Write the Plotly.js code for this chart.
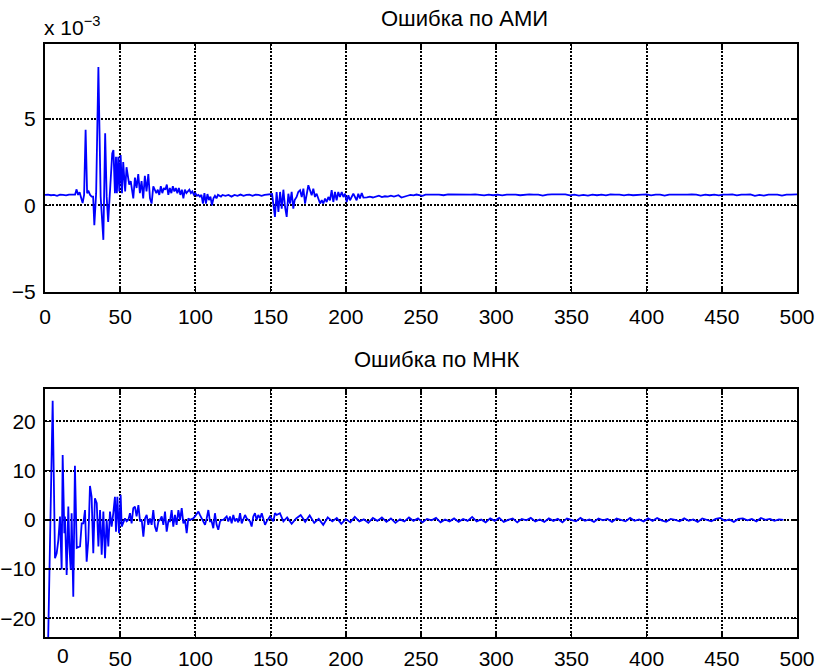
<!DOCTYPE html>
<html>
<head>
<meta charset="utf-8">
<script src="https://cdn.plot.ly/plotly-3.0.1.min.js"></script>
<style>html,body{margin:0;padding:0;background:#fff;}#chart{width:822px;height:669px;}</style>
</head>
<body>
<div id="chart"></div>
<script>
// ---- Top panel: "Ошибка по АМИ" (values in units of 1e-3)
var amiX = [0,2,4,6,8,10,12,14,16,18,20,21,22,23,24,25,26,27,28,29,30,31,32,32.8,34,35.5,37,38.8,40,41,42,43,44.7,45.5,46.5,47.2,47.8,48.7,49.4,50.3,51.2,52,53.3,54.2,56,57,58.7,59.8,60.9,62,63.1,64.2,65.3,66.4,67.5,68.7,69.8,70.9,72,74,75,76,77,78,79,80,81,82,83,84,85,86,87,88,89,90,91,92,93,94,95,96,97,98,99,100,101,102,103,104,105,106,107,108,109,110,111,112,113,114,115,117,118,120,122,124,126,128,130,132,134,136,138,140,142,144,146,148,150,151,152.9,154,155.2,156.3,157.4,158.5,159.6,160.7,161.8,162.9,164,165.1,166,167.3,168.4,169.6,170.7,171.8,172.9,174,175.1,176.2,177.3,178.4,179.5,180.6,181.7,182.9,184,185.1,186.2,187.3,188.4,189.5,190.6,191.7,192.8,193.9,195,196.1,197.3,198.4,199.5,200.6,201.7,202.8,205,207.2,208.3,209.4,210.6,211.7,214,216,218,220,222,224,226,228,230,232,235,237,239,241,243,245,247,249,251,253,256,259,262,265,268,271,274,277,280,283,286,289,292,295,298,301,304,307,310,313,316,319,322,325,328,331,334,337,340,343,346,349,352,355,358,361,364,367,370,373,376,379,382,385,388,391,394,397,400,403,406,409,412,415,418,421,424,427,430,433,436,439,442,445,448,451,454,457,460,463,466,469,472,475,478,481,484,487,490,493,496,500];
var amiY = [0.6,0.62,0.58,0.6,0.55,0.62,0.6,0.57,0.62,0.6,0.62,0.92,0.6,0.75,0.4,0.13,0.6,4.37,0.7,0.8,0.6,0.5,0.5,-1.16,0.7,8.0,0.5,-2.0,4.16,0.5,-0.96,0.8,3.0,3.2,0.7,2.8,0.7,2.8,0.8,2.9,0.7,2.5,0.8,2.2,1.2,1.4,0.4,1.6,1.0,1.8,0.7,1.4,0.4,1.7,0.8,1.8,0.4,0.1,1.1,0.7,0.9,0.6,1.1,0.7,1.0,0.9,1.2,0.6,1.0,0.7,1.1,0.8,1.0,0.7,1.0,0.6,0.9,0.4,0.9,0.7,0.8,0.9,0.7,0.8,0.6,0.7,0.55,0.6,0.5,0.6,0.1,0.7,0.1,0.65,0.3,0.5,0.0,0.4,0.55,0.4,0.6,0.5,0.6,0.55,0.6,0.5,0.6,0.55,0.62,0.55,0.6,0.62,0.55,0.62,0.6,0.55,0.6,0.62,0.6,0.65,-0.67,0.77,-0.39,0.77,-0.19,0.9,-0.1,-0.67,0.67,0.1,0.77,-0.19,0.3,0.48,0.77,0.87,0.48,0.96,0.1,0.77,1.16,0.87,0.58,0.96,0.48,0.67,0.39,0.1,0.29,0.1,0.39,0.19,0.48,0.29,0.87,0.19,0.77,0.29,0.77,0.48,0.77,0.48,0.67,0.19,0.58,0.29,0.67,0.29,0.67,0.39,0.71,0.44,0.46,0.5,0.45,0.5,0.55,0.47,0.52,0.5,0.55,0.5,0.58,0.45,0.48,0.55,0.6,0.57,0.62,0.6,0.55,0.62,0.6,0.62,0.62,0.58,0.63,0.62,0.62,0.63,0.62,0.62,0.63,0.62,0.57,0.62,0.58,0.62,0.57,0.62,0.63,0.62,0.58,0.62,0.63,0.62,0.62,0.56,0.62,0.63,0.62,0.62,0.63,0.57,0.62,0.56,0.6,0.56,0.62,0.58,0.62,0.57,0.63,0.62,0.62,0.57,0.62,0.58,0.62,0.62,0.63,0.57,0.62,0.62,0.56,0.62,0.62,0.62,0.58,0.62,0.63,0.62,0.56,0.62,0.58,0.62,0.57,0.62,0.62,0.63,0.57,0.62,0.62,0.63,0.55,0.6,0.56,0.62,0.62,0.62,0.56,0.62,0.62,0.63];

// ---- Bottom panel: "Ошибка по МНК"
var mnkX = [2,5.1,6.65,7.76,8.87,9.97,11.08,11.75,12.85,13.3,14.4,15.5,16.2,17.1,17.7,18.8,19.9,21.1,23.3,24.4,25.5,26.6,27.7,28.8,29.9,31,32.1,33.2,34.4,35.5,36.6,37.7,38.8,39.9,41,42.1,43.2,44.3,45.4,46.5,47.2,48.1,49.2,50.3,51,52.1,53.2,54.3,55.4,56.5,57.6,58.7,59.8,60.9,62.1,63.2,64.3,65.4,66.5,67.6,68.7,69.8,70.9,72,73.1,74.2,75.4,76.5,77.6,78.7,79.8,80.9,82,83.1,84.2,85.3,86.4,87.5,88.7,89.8,90.9,92,93.1,94.2,95.3,96.4,98.6,99.7,102,103,105.3,106.4,107.5,108.6,109.7,110.8,111.9,113,114.1,115.2,116.4,117.5,118.6,120.8,121.9,123,124.1,125.2,126.3,127.4,128.5,129.7,130.8,131.9,133,134.1,136.3,137.4,138.5,139.6,140.7,141.8,143,144.1,145.2,146.3,147.4,149.6,151.8,152.9,154,156.2,158.5,161,164,167,170,173,176,179,182,185,188,191,194,197,200,203,206,209,212,215,218,221,224,227,230,233,236,239,242,245,248,251,254,257,260,263,266,269,272,275,278,281,284,287,290,293,296,299,302,305,308,311,314,317,320,323,326,329,332,335,338,341,344,347,350,353,356,359,362,365,368,371,374,377,380,383,386,389,392,395,398,401,404,407,410,413,416,419,422,425,428,431,434,437,440,443,446,449,452,455,458,461,464,467,470,473,476,479,482,485,488,491];
var mnkY = [-26,24.2,-7.8,-6.8,-4.1,0.7,-10.1,13.2,-2.7,0.7,-11.2,2.7,-5.4,-10.1,1.35,-15.6,11.0,-5.7,-5.4,-0.7,-0.7,2.0,-8.5,-4.1,6.9,4.7,-6.8,4.4,3.4,-5.4,2.0,-7.1,1.7,-7.8,0,-5.4,1.7,-1.35,1.35,4.7,-2.4,4.7,-2.7,5.1,-1.35,-0.3,0.3,-0.3,0,1.35,-0.7,2.4,2.7,0.7,3.0,-0.3,0,-3.4,0.3,1.0,-1.0,0.3,-1.0,2.0,-1.35,-2.4,-0.3,0,0.7,-1.0,1.7,-2.4,-0.3,-0.3,2.0,-1.35,1.0,-1.0,2.0,0,2.4,-0.7,0,-2.7,0.3,0,0.3,0.7,1.7,1.0,-0.3,-1.0,0.3,2.0,-0.3,-0.3,-1.7,1.35,-1.0,-2.0,-0.3,0,0,0.7,-0.3,0.7,-0.7,1.0,-0.3,0.3,-0.5,1.35,-0.7,0,1.0,0.3,-0.3,-1.35,0.7,1.35,0,1.0,0.3,1.35,0,-1.0,-0.3,0.7,-0.3,1.35,1.0,1.35,-0.3,0.5,-0.8,0.3,1.0,-0.4,0.9,-0.6,0.2,-1.0,0.5,-0.3,0.4,-0.8,0.2,-0.5,0.6,-0.3,0.1,-0.6,0.4,-0.2,0.5,-0.4,0.3,-0.6,0.1,-0.3,0.5,-0.2,0.3,-0.5,0.2,-0.1,0.4,-0.5,0.1,-0.3,0.3,-0.4,0.2,-0.2,0.6,-0.3,0.1,-0.5,0.3,-0.2,0.4,-0.4,0.0,0.3,-0.5,0.2,-0.1,0.4,-0.3,0.1,-0.4,0.3,-0.2,0.2,-0.5,0.3,0.0,-0.3,0.4,-0.2,0.1,-0.4,0.3,-0.1,0.2,-0.4,0.3,0.0,-0.3,0.4,-0.2,0.1,-0.3,0.3,-0.2,0.4,-0.1,-0.4,0.2,0.0,-0.3,0.3,-0.2,0.1,-0.4,0.3,0.0,-0.3,0.2,0.4,-0.2,0.1,-0.4,0.2,0.3,-0.1,0.2,-0.3,0.4,0.0,0.2,-0.2,0.1,0.0];

// ---- Axis ticks and texts
var xTicksTop = [0,50,100,150,200,250,300,350,400,450,500];
var xTicksBottom = [50,100,150,200,250,300,350,400,450,500];
var yTicksTop = [-5,0,5];
var yTicksBottom = [-20,-10,0,10,20];
var titleTop = "Ошибка по АМИ";
var titleBottom = "Ошибка по МНК";
var scaleLabel = "x 10<sup>−3</sup>";

var FONT = {family: "Liberation Sans, Arial, sans-serif", size: 21, color: "#000"};
var TFONT = {family: "Liberation Sans, Arial, sans-serif", size: 22, color: "#000"};

function lbl(v) { return v < 0 ? "−" + (-v) : String(v); }

function axisBase() {
  return {
    showline: true, linecolor: "#000", linewidth: 2, mirror: "ticks",
    ticks: "inside", ticklen: 6, tickwidth: 1.5, tickcolor: "#000",
    showgrid: true, gridcolor: "#000", gridwidth: 2, griddash: "2px,1.5px",
    zeroline: false, tickfont: FONT, fixedrange: true
  };
}

var xa = Object.assign(axisBase(), {anchor: "y", domain: [0,1], range: [0,500], tickvals: xTicksTop, ticktext: xTicksTop.map(lbl), ticklabelstandoff: 5});
var ya = Object.assign(axisBase(), {anchor: "x", domain: [0.5823,1], range: [-5,9.33], tickvals: yTicksTop, ticktext: yTicksTop.map(lbl), ticklabelstandoff: 3});
var xa2 = Object.assign(axisBase(), {anchor: "y2", domain: [0,1], range: [0,500], tickvals: xTicksBottom, ticktext: xTicksBottom.map(lbl), ticklabelstandoff: 2});
var ya2 = Object.assign(axisBase(), {anchor: "x2", domain: [0,0.4182], range: [-23.8,26.6], tickvals: yTicksBottom, ticktext: yTicksBottom.map(lbl), ticklabelstandoff: 3});

var traces = [
  {x: amiX, y: amiY, xaxis: "x", yaxis: "y", type: "scatter", mode: "lines", line: {color: "#0000ff", width: 1.8}, hoverinfo: "skip"},
  {x: mnkX, y: mnkY, xaxis: "x2", yaxis: "y2", type: "scatter", mode: "lines", line: {color: "#0000ff", width: 1.8}, hoverinfo: "skip"}
];

var layout = {
  width: 822, height: 669,
  margin: {l: 45, r: 25, t: 44, b: 32},
  paper_bgcolor: "#fff", plot_bgcolor: "#fff",
  showlegend: false,
  font: FONT,
  xaxis: xa, yaxis: ya, xaxis2: xa2, yaxis2: ya2,
  annotations: [
    {text: titleTop, xref: "paper", yref: "paper", x: 0.5585, y: 1, xanchor: "center", yanchor: "bottom", yshift: 11, showarrow: false, font: TFONT},
    {text: titleBottom, xref: "paper", yref: "paper", x: 0.521, y: 0.4182, xanchor: "center", yanchor: "bottom", yshift: 15, showarrow: false, font: TFONT},
    {text: scaleLabel, xref: "paper", yref: "paper", x: 0, y: 1, xanchor: "left", yanchor: "bottom", xshift: -3, yshift: 3, showarrow: false, font: FONT},
    {text: "0", xref: "x2", yref: "paper", x: 12, y: 0, xanchor: "center", yanchor: "top", yshift: -5, showarrow: false, font: FONT}
  ]
};

Plotly.newPlot("chart", traces, layout, {staticPlot: true, displayModeBar: false});
</script>
</body>
</html>
